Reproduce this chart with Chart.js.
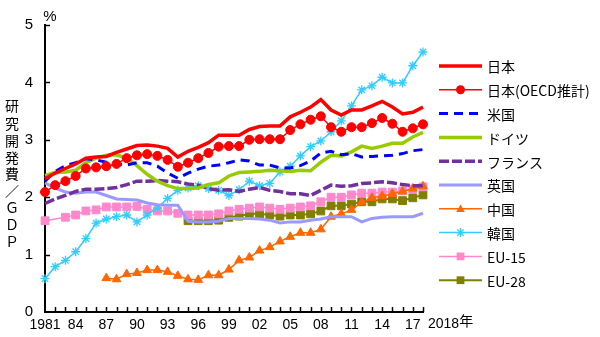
<!DOCTYPE html>
<html><head><meta charset="utf-8">
<script src="https://cdn.jsdelivr.net/npm/chart.js@4"></script>
<style>html,body{margin:0;padding:0;background:#fff}</style>
</head><body>
<canvas id="c" width="600" height="337"></canvas>
<script>
const years = [1981,1982,1983,1984,1985,1986,1987,1988,1989,1990,1991,1992,1993,1994,1995,1996,1997,1998,1999,2000,2001,2002,2003,2004,2005,2006,2007,2008,2009,2010,2011,2012,2013,2014,2015,2016,2017,2018];
const yTicks = [0,1,2,3,4,5];
const japan = [2.32,2.42,2.50,2.58,2.68,2.70,2.71,2.78,2.84,2.90, 2.91,2.89,2.85,2.70,2.80,2.87,2.95,3.08,3.08,3.08, 3.18,3.23,3.24,3.24,3.40,3.48,3.57,3.70,3.52,3.43, 3.52,3.52,3.59,3.67,3.57,3.45,3.48,3.57];
const japanOECD = [2.09,2.21,2.28,2.37,2.50,2.52,2.54,2.58,2.68,2.73, 2.75,2.72,2.65,2.53,2.60,2.68,2.77,2.88,2.89,2.89, 3.00,3.01,3.01,3.01,3.17,3.27,3.35,3.41,3.22,3.14, 3.22,3.22,3.29,3.38,3.28,3.14,3.20,3.27];
const usa = [2.28,2.45,2.55,2.60,2.67,2.65,2.61,2.58,2.56,2.60, 2.60,2.54,2.42,2.33,2.42,2.49,2.54,2.56,2.60,2.65, 2.63,2.56,2.56,2.51,2.51,2.55,2.63,2.77,2.80,2.74, 2.76,2.70,2.71,2.72,2.73,2.76,2.81,2.83];
const germany = [2.38,2.43,2.44,2.47,2.60,2.68,2.73,2.74,2.68,2.55, 2.40,2.28,2.20,2.15,2.15,2.16,2.22,2.25,2.37,2.43, 2.44,2.45,2.47,2.46,2.45,2.47,2.46,2.61,2.73,2.72, 2.79,2.89,2.85,2.89,2.94,2.94,3.05,3.13];
const france = [1.89,1.97,2.03,2.10,2.14,2.14,2.15,2.17,2.22,2.28, 2.28,2.29,2.28,2.27,2.23,2.21,2.15,2.12,2.13,2.10, 2.14,2.17,2.12,2.10,2.06,2.06,2.03,2.12,2.21,2.19, 2.20,2.24,2.25,2.27,2.25,2.22,2.20,2.20];
const uk = [2.25,2.16,2.09,2.07,2.09,2.09,2.03,1.97,1.96,1.95, 1.90,1.87,1.86,1.86,1.58,1.57,1.57,1.58,1.63,1.63, 1.63,1.62,1.60,1.55,1.57,1.57,1.60,1.62,1.66,1.66, 1.66,1.57,1.63,1.65,1.66,1.66,1.66,1.72];
const china = [null,null,null,null,null,null,0.59,0.57,0.66,0.68, 0.73,0.73,0.70,0.63,0.57,0.56,0.64,0.64,0.74,0.90, 0.95,1.07,1.13,1.23,1.31,1.38,1.38,1.44,1.66,1.71, 1.78,1.91,1.99,2.02,2.06,2.10,2.15,2.19];
const korea = [0.58,0.79,0.90,1.05,1.28,1.55,1.62,1.66,1.69,1.57, 1.69,1.81,1.98,2.12,2.16,2.20,2.15,2.12,2.03,2.13, 2.28,2.20,2.24,2.44,2.54,2.72,2.88,2.98,3.14,3.33, 3.59,3.87,3.94,4.09,3.99,3.99,4.29,4.53];
const eu15 = [1.59,null,1.65,1.69,1.76,1.78,1.83,1.83,1.83,1.84, 1.79,1.76,1.76,1.72,1.69,1.69,1.69,1.71,1.76,1.79, 1.81,1.83,1.81,1.79,1.81,1.83,1.85,1.92,2.00,2.00, 2.04,2.07,2.07,2.09,2.09,2.11,2.14,2.18];
const eu28 = [null,null,null,null,null,null,null,null,null,null, null,null,null,null,1.59,1.59,1.59,1.60,1.65,1.67, 1.71,1.71,1.69,1.67,1.69,1.69,1.71,1.76,1.85,1.85, 1.88,1.92,1.92,1.97,1.97,1.94,1.99,2.04];
const seriesNames = ['日本','日本(OECD推計)','米国','ドイツ','フランス','英国','中国','韓国','EU-15','EU-28'];
const lastLabel = '2018年';
const yTitle = ['研','究','開','発','費','／','Ｇ','Ｄ','Ｐ'];

const JP = '"Noto Sans CJK JP", "Noto Sans", sans-serif';
const NUM = '"Liberation Sans", Arial, sans-serif';

function ds(label, data, color, width, dash, pstyle, prad, extra) {
  return Object.assign({
    label, data, borderColor: color, backgroundColor: color, borderWidth: width,
    borderDash: dash || [], pointStyle: pstyle || 'circle', pointRadius: prad || 0,
    pointHoverRadius: prad || 0, pointBorderWidth: 1, pointBackgroundColor: color, pointBorderColor: color,
    tension: 0, fill: false, spanGaps: false
  }, extra || {});
}

const datasets = [
  ds(seriesNames[0], japan, '#ff0000', 3.5),
  ds(seriesNames[1], japanOECD, '#ff0000', 1.5, null, 'circle', 4.5),
  ds(seriesNames[2], usa, '#0000ff', 3, [9,6]),
  ds(seriesNames[3], germany, '#99cc00', 3.5),
  ds(seriesNames[4], france, '#7030a0', 3.5, [10,3]),
  ds(seriesNames[5], uk, '#9999ff', 3),
  ds(seriesNames[6], china, '#ff6600', 1.5, null, 'triangle', 5),
  ds(seriesNames[7], korea, '#33ccff', 1.5, null, 'star', 4.5, {pointBorderWidth: 1.3}),
  ds(seriesNames[8], eu15, '#ff88cc', 1.5, null, 'rect', 5.5, {spanGaps: true}),
  ds(seriesNames[9], eu28, '#808000', 2, null, 'rect', 5.5)
];

function marker(ctx, style, x, y, r, color, bw) {
  ctx.save();
  ctx.fillStyle = color; ctx.strokeStyle = color; ctx.lineWidth = bw || 1; ctx.setLineDash([]);
  ctx.beginPath();
  if (style === 'circle') { ctx.arc(x, y, r, 0, Math.PI*2); ctx.fill(); }
  else if (style === 'triangle') {
    for (let k = 0; k < 3; k++) { const a = -Math.PI/2 + k*2*Math.PI/3; const px = x + Math.cos(a)*r, py = y + Math.sin(a)*r + r*0.15; k ? ctx.lineTo(px,py) : ctx.moveTo(px,py); }
    ctx.closePath(); ctx.fill();
  } else if (style === 'rect') {
    const h = r*Math.SQRT1_2; ctx.rect(x-h, y-h, 2*h, 2*h); ctx.fill();
  } else if (style === 'star') {
    for (let k = 0; k < 4; k++) { const a = k*Math.PI/4; ctx.moveTo(x+Math.cos(a)*r, y+Math.sin(a)*r); ctx.lineTo(x-Math.cos(a)*r, y-Math.sin(a)*r); }
    ctx.stroke();
  }
  ctx.restore();
}

const deco = {
  id: 'deco',
  afterDraw(chart) {
    const ctx = chart.ctx, xs = chart.scales.x, ys = chart.scales.y, a = chart.chartArea;
    ctx.save();
    ctx.strokeStyle = '#000'; ctx.lineWidth = 1.5;
    for (let i = 1; i < years.length; i++) {
      const x = Math.round(xs.getPixelForValue(i)) + 0.5;
      ctx.beginPath(); ctx.moveTo(x, a.bottom); ctx.lineTo(x, a.bottom - 5); ctx.stroke();
    }
    for (const v of yTicks) {
      if (!v) continue;
      const y = Math.round(ys.getPixelForValue(v)) + 0.5;
      ctx.beginPath(); ctx.moveTo(a.left, y); ctx.lineTo(a.left + 5, y); ctx.stroke();
    }
    ctx.fillStyle = '#000';
    ctx.font = '14px ' + NUM; ctx.textAlign = 'left'; ctx.textBaseline = 'top';
    ctx.fillText(lastLabel.slice(0,4), xs.getPixelForValue(years.length-1) + 5, a.bottom + 5);
    const w4 = ctx.measureText(lastLabel.slice(0,4)).width;
    ctx.font = '14px ' + JP; ctx.textBaseline = 'top';
    ctx.fillText(lastLabel.slice(4), xs.getPixelForValue(years.length-1) + 5 + w4, a.bottom + 2);
    ctx.font = '15px ' + NUM; ctx.textAlign = 'center'; ctx.textBaseline = 'middle';
    ctx.fillText('%', 50, 17);
    ctx.font = '14px ' + JP;
    const ty = [106,124,141,158,174,191,208,225,242];
    yTitle.forEach((ch, i) => ctx.fillText(ch, 12, ty[i]));
    // legend
    const ly0 = 66, step = 23.8, x1 = 439, x2 = 482;
    chart.data.datasets.forEach((d, i) => {
      const y = ly0 + i*step;
      ctx.save();
      ctx.strokeStyle = d.borderColor; ctx.lineWidth = d.borderWidth; ctx.setLineDash(d.borderDash || []);
      ctx.beginPath(); ctx.moveTo(x1, y); ctx.lineTo(x2, y); ctx.stroke();
      ctx.restore();
      if (d.pointRadius) marker(ctx, d.pointStyle, (x1+x2)/2, y, d.pointRadius, d.borderColor, d.pointBorderWidth);
      ctx.fillStyle = '#000'; ctx.font = '14px ' + JP; ctx.textAlign = 'left'; ctx.textBaseline = 'middle';
      ctx.fillText(d.label, 487, y + 1);
    });
    ctx.restore();
  }
};

new Chart(document.getElementById('c'), {
  type: 'line',
  data: { labels: years.map(String), datasets },
  options: {
    responsive: false, animation: false, devicePixelRatio: 1,
    layout: { padding: { left: 0, right: 177, top: 25, bottom: 0 } },
    plugins: { legend: { display: false }, tooltip: { enabled: false } },
    scales: {
      x: {
        type: 'category', offset: false,
        grid: { display: false, drawTicks: false },
        border: { display: true, color: '#000', width: 2 },
        ticks: {
          autoSkip: false, maxRotation: 0, minRotation: 0, padding: 5, color: '#000',
          font: { family: NUM, size: 14 },
          callback: (v, i) => (i % 3 === 0 && i < years.length - 1) ? (i === 0 ? String(years[i]) : String(years[i]).slice(2)) : ''
        },
        afterFit: s => { s.height = 25; }
      },
      y: {
        min: 0, max: 5,
        grid: { display: false, drawTicks: false },
        border: { display: true, color: '#000', width: 2 },
        ticks: { stepSize: 1, padding: 12, color: '#000', font: { family: NUM, size: 15 } },
        afterFit: s => { s.width = 45; }
      }
    }
  },
  plugins: [deco]
});
</script>
</body></html>
